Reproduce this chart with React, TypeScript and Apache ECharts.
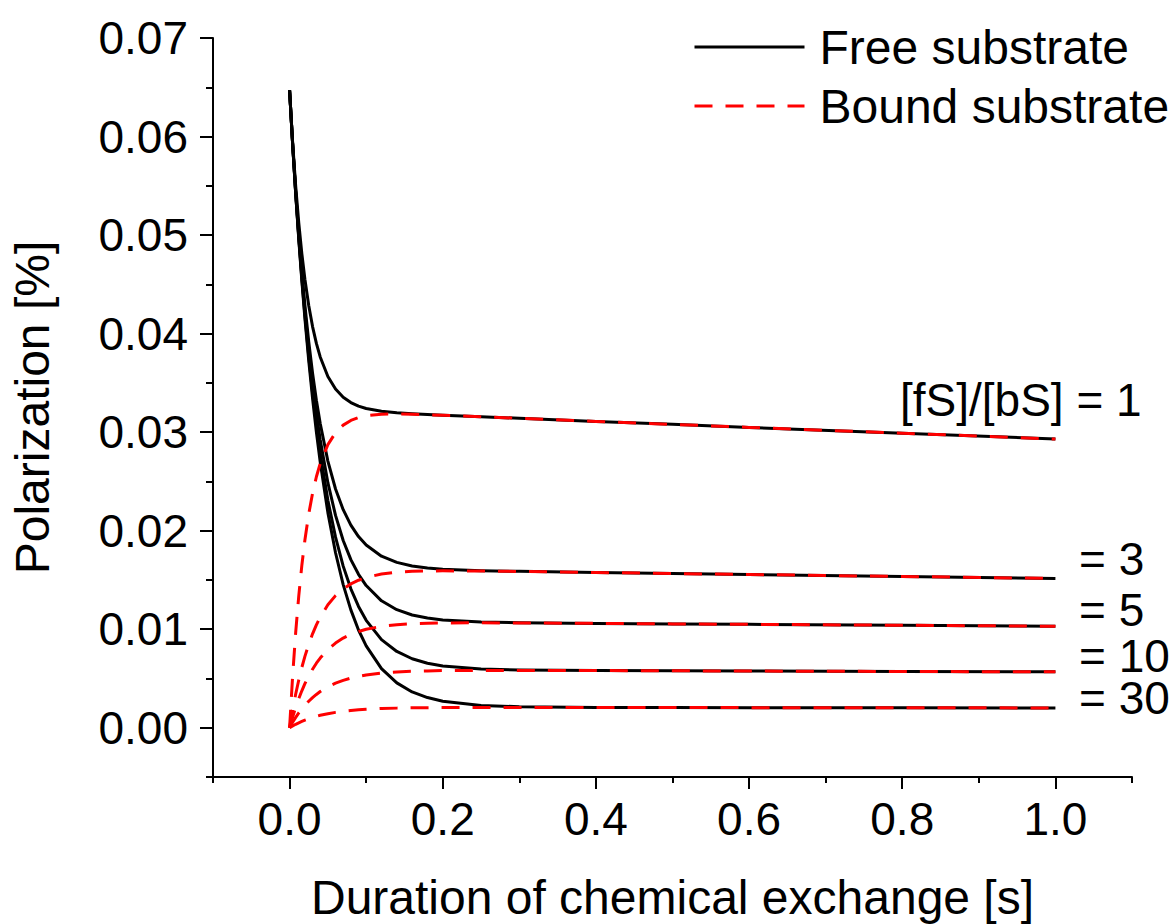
import React, { useEffect, useRef } from "react";
import * as echarts from "echarts";

const times = [0, 0.004, 0.008, 0.012, 0.016, 0.02, 0.025, 0.03, 0.035, 0.04, 0.05, 0.06, 0.07, 0.08, 0.09, 0.1, 0.12, 0.14, 0.16, 0.18, 0.2, 0.25, 0.3, 0.4, 0.5, 0.6, 0.8, 1.0];

const free1 = [0.0647, 0.05939, 0.05495, 0.05123, 0.04812, 0.04552, 0.04285, 0.04071, 0.039, 0.03763, 0.03565, 0.03437, 0.03354, 0.033, 0.03264, 0.0324, 0.03212, 0.03197, 0.03187, 0.03179, 0.03172, 0.03156, 0.0314, 0.03109, 0.03079, 0.03048, 0.02989, 0.0293];
const bound1 = [0, 0.00528, 0.0097, 0.01339, 0.01647, 0.01905, 0.02169, 0.02379, 0.02547, 0.02681, 0.02873, 0.02995, 0.03071, 0.03119, 0.03148, 0.03166, 0.03182, 0.03184, 0.03182, 0.03177, 0.03171, 0.03156, 0.0314, 0.03109, 0.03079, 0.03048, 0.02989, 0.0293];

const free3 = [0.0647, 0.05924, 0.0544, 0.0501, 0.04628, 0.04289, 0.03918, 0.03599, 0.03324, 0.03087, 0.02706, 0.02423, 0.02213, 0.02057, 0.0194, 0.01854, 0.01741, 0.01678, 0.01642, 0.01621, 0.01609, 0.01594, 0.01587, 0.01576, 0.01565, 0.01555, 0.01535, 0.01515];
const bound3 = [0, 0.00181, 0.00342, 0.00485, 0.00612, 0.00724, 0.00847, 0.00953, 0.01044, 0.01122, 0.01248, 0.01341, 0.01409, 0.0146, 0.01497, 0.01525, 0.0156, 0.01578, 0.01587, 0.01591, 0.01592, 0.0159, 0.01586, 0.01576, 0.01565, 0.01555, 0.01535, 0.01515];

const free5 = [0.0647, 0.05922, 0.05429, 0.04987, 0.04589, 0.04231, 0.03836, 0.0349, 0.03187, 0.02922, 0.02487, 0.02155, 0.019, 0.01706, 0.01557, 0.01443, 0.01288, 0.01198, 0.01144, 0.01113, 0.01094, 0.01073, 0.01065, 0.01059, 0.01054, 0.01049, 0.0104, 0.0103];
const bound5 = [0, 0.00109, 0.00208, 0.00296, 0.00375, 0.00447, 0.00525, 0.00594, 0.00655, 0.00707, 0.00794, 0.00859, 0.0091, 0.00948, 0.00977, 0.00999, 0.01029, 0.01046, 0.01056, 0.01061, 0.01063, 0.01065, 0.01063, 0.01059, 0.01054, 0.01049, 0.0104, 0.0103];

const free10 = [0.0647, 0.05919, 0.0542, 0.04968, 0.04558, 0.04187, 0.0377, 0.03402, 0.03077, 0.02789, 0.02309, 0.01934, 0.0164, 0.0141, 0.01231, 0.0109, 0.00894, 0.00774, 0.007, 0.00655, 0.00627, 0.00596, 0.00585, 0.0058, 0.00578, 0.00575, 0.00571, 0.00567];
const bound10 = [0, 0.00055, 0.00105, 0.0015, 0.00191, 0.00228, 0.00269, 0.00306, 0.00338, 0.00367, 0.00415, 0.00452, 0.00481, 0.00504, 0.00522, 0.00536, 0.00555, 0.00566, 0.00573, 0.00577, 0.0058, 0.00582, 0.00581, 0.0058, 0.00578, 0.00575, 0.00571, 0.00567];

const free30 = [0.0647, 0.05918, 0.05415, 0.04955, 0.04537, 0.04155, 0.03725, 0.03342, 0.03, 0.02696, 0.02183, 0.01776, 0.01453, 0.01196, 0.00992, 0.00831, 0.006, 0.00455, 0.00363, 0.00306, 0.00269, 0.00226, 0.00213, 0.00206, 0.00205, 0.00204, 0.00203, 0.00201];
const bound30 = [0, 0.00018, 0.00035, 0.0005, 0.00064, 0.00077, 0.00091, 0.00104, 0.00115, 0.00126, 0.00142, 0.00156, 0.00167, 0.00175, 0.00182, 0.00187, 0.00195, 0.00199, 0.00202, 0.00204, 0.00205, 0.00206, 0.00206, 0.00206, 0.00205, 0.00204, 0.00203, 0.00201];

const freeSeries = [free1, free3, free5, free10, free30];
const boundSeries = [bound1, bound3, bound5, bound10, bound30];

const xMajorTicks = [0, 0.2, 0.4, 0.6, 0.8, 1.0];
const xMinorTicks = [-0.1, 0.1, 0.3, 0.5, 0.7, 0.9, 1.1];
const yMajorTicks = [0, 0.01, 0.02, 0.03, 0.04, 0.05, 0.06, 0.07];
const yMinorTicks = [-0.005, 0.005, 0.015, 0.025, 0.035, 0.045, 0.055, 0.065];

const ratioLabels = [
  { text: "[fS]/[bS] = 1", x: 900, y: 397 },
  { text: "= 3", x: 1079, y: 556 },
  { text: "= 5", x: 1079, y: 607 },
  { text: "= 10", x: 1079, y: 653 },
  { text: "= 30", x: 1079, y: 695 },
];

const FONT = "'Liberation Sans', Arial, sans-serif";

export default function App() {
  const ref = useRef<HTMLDivElement>(null);

  useEffect(() => {
    document.body.style.margin = "0";
    if (!ref.current) return;
    const chart = echarts.init(ref.current, undefined, { renderer: "svg" });

    const pairs = (vals: number[]) => times.map((t, i) => [t, vals[i]]);

    const series: any[] = [];
    freeSeries.forEach((vals) => {
      series.push({
        type: "line",
        name: "Free substrate",
        data: pairs(vals),
        showSymbol: false,
        symbol: "none",
        smooth: false,
        lineStyle: { color: "#000", width: 3, type: "solid", join: "round" },
        itemStyle: { color: "#000" },
        xAxisIndex: 0,
        yAxisIndex: 0,
        z: 2,
      });
    });
    boundSeries.forEach((vals) => {
      series.push({
        type: "line",
        name: "Bound substrate",
        data: pairs(vals),
        showSymbol: false,
        symbol: "none",
        smooth: false,
        lineStyle: { color: "#ff0000", width: 3, type: [18, 13], join: "round" },
        itemStyle: { color: "#ff0000" },
        xAxisIndex: 0,
        yAxisIndex: 0,
        z: 3,
      });
    });

    const axisLine = { show: true, onZero: false, lineStyle: { color: "#000", width: 2 } };

    chart.setOption({
      animation: false,
      textStyle: { fontFamily: FONT },
      grid: { left: 213, top: 38, width: 919, height: 739, containLabel: false, outerBoundsMode: "none" },
      legend: {
        data: ["Free substrate", "Bound substrate"],
        orient: "vertical",
        left: 693,
        top: 23,
        padding: 0,
        itemWidth: 110,
        itemHeight: 14,
        itemGap: 11,
        itemStyle: { opacity: 0 },
        lineStyle: { width: 3 },
        textStyle: { fontSize: 48, color: "#000", fontFamily: FONT, padding: [0, 0, 0, 10] },
        selectedMode: false,
      },
      xAxis: [
        {
          type: "value",
          min: -0.1,
          max: 1.1,
          position: "bottom",
          axisLine,
          splitLine: { show: false },
          axisTick: { show: true, customValues: xMajorTicks, length: 12, lineStyle: { color: "#000", width: 2 } },
          axisLabel: {
            customValues: xMajorTicks,
            formatter: (v: number) => v.toFixed(1),
            fontSize: 46,
            color: "#000",
            margin: 19,
            fontFamily: FONT,
          },
          name: "Duration of chemical exchange [s]",
          nameLocation: "middle",
          nameGap: 96,
          nameTextStyle: { fontSize: 48, color: "#000", fontFamily: FONT },
        },
        {
          type: "value",
          min: -0.1,
          max: 1.1,
          position: "bottom",
          offset: 0,
          axisLine: { show: false, onZero: false },
          splitLine: { show: false },
          axisTick: { show: true, customValues: xMinorTicks, length: 6, lineStyle: { color: "#000", width: 2 } },
          axisLabel: { show: false },
        },
      ],
      yAxis: [
        {
          type: "value",
          min: -0.005,
          max: 0.07,
          position: "left",
          axisLine,
          splitLine: { show: false },
          axisTick: { show: true, customValues: yMajorTicks, length: 13, lineStyle: { color: "#000", width: 2 } },
          axisLabel: {
            customValues: yMajorTicks,
            formatter: (v: number) => v.toFixed(2),
            fontSize: 46,
            color: "#000",
            margin: 25,
            fontFamily: FONT,
          },
          name: "Polarization [%]",
          nameLocation: "middle",
          nameGap: 157,
          nameTextStyle: { fontSize: 48, color: "#000", fontFamily: FONT },
        },
        {
          type: "value",
          min: -0.005,
          max: 0.07,
          position: "left",
          offset: 0,
          axisLine: { show: false, onZero: false },
          splitLine: { show: false },
          axisTick: { show: true, customValues: yMinorTicks, length: 7, lineStyle: { color: "#000", width: 2 } },
          axisLabel: { show: false },
        },
      ],
      graphic: ratioLabels.map((l) => ({
        type: "text",
        left: l.x,
        top: l.y - 20,
        style: { text: l.text, fontSize: 46, lineHeight: 40, fill: "#000", fontFamily: FONT },
      })),
      series,
    });

    return () => chart.dispose();
  }, []);

  return <div ref={ref} style={{ width: 1176, height: 924 }} />;
}
